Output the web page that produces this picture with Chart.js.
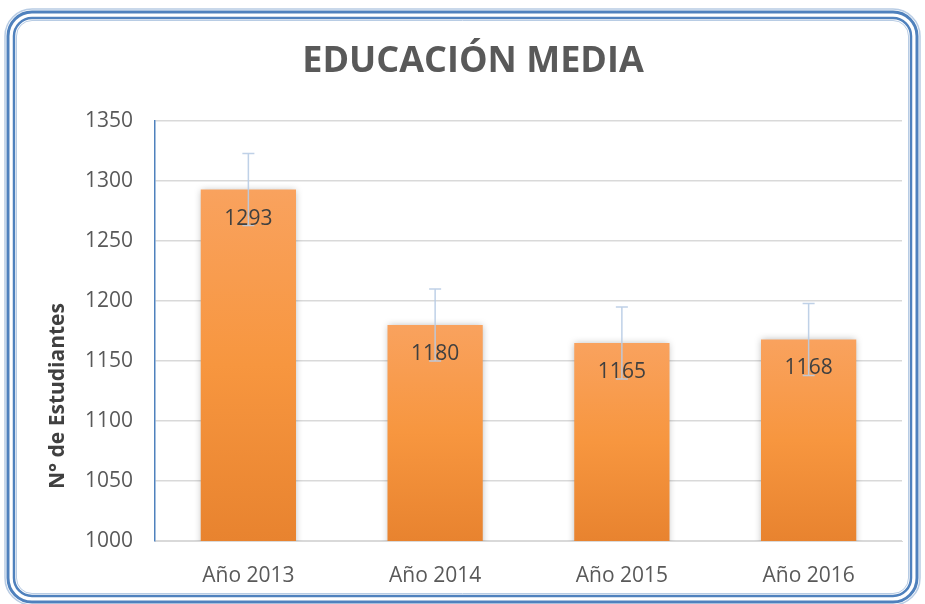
<!DOCTYPE html>
<html>
<head>
<meta charset="utf-8">
<script src="https://cdn.jsdelivr.net/npm/chart.js@4"></script>
<style>
  body { margin: 0; background: #fff; }
  #wrap { width: 925px; height: 604px; }
</style>
</head>
<body>
<div id="wrap"><canvas id="myChart" width="925" height="604"></canvas></div>
<script>
const categories = ["Año 2013", "Año 2014", "Año 2015", "Año 2016"];
const students = [1293, 1180, 1165, 1168];
const errorAmounts = [30, 30, 30, 30];
const yTicks = [1000, 1050, 1100, 1150, 1200, 1250, 1300, 1350];
const yTitle = "N° de Estudiantes";

// double rounded frame round the whole picture
const framePlugin = {
  id: "frame",
  beforeDraw(chart) {
    const ctx = chart.ctx;
    ctx.save();
    ctx.fillStyle = "#fff";
    ctx.fillRect(0, 0, chart.width, chart.height);
    const lines = [
      { i: 5, w: 1.5, c: "#b8cce4" },
      { i: 8, w: 3, c: "#4f81bd" },
      { i: 14, w: 2.5, c: "#4f81bd" },
      { i: 16.5, w: 1, c: "#b8cce4" },
    ];
    lines.forEach((l) => {
      ctx.beginPath();
      ctx.lineWidth = l.w;
      ctx.strokeStyle = l.c;
      ctx.roundRect(l.i, l.i + 4, chart.width - 2 * l.i, chart.height - 2 * l.i - 2 + 4, 32 - l.i);
      ctx.stroke();
    });
    ctx.restore();
  },
};

// soft shadow behind the bars
const shadowPlugin = {
  id: "barShadow",
  beforeDatasetDraw(chart) {
    const ctx = chart.ctx;
    ctx.save();
    ctx.shadowColor = "rgba(0,0,0,0.28)";
    ctx.shadowBlur = 7;
    ctx.shadowOffsetX = 0;
    ctx.shadowOffsetY = 0;
  },
  afterDatasetDraw(chart) {
    chart.ctx.restore();
  },
};

// error bars, value labels and the (lower placed) y title
const extrasPlugin = {
  id: "extras",
  afterDatasetsDraw(chart) {
    const ctx = chart.ctx;
    const y = chart.scales.y;
    const meta = chart.getDatasetMeta(0);
    ctx.save();
    meta.data.forEach((bar, i) => {
      const v = students[i];
      const top = y.getPixelForValue(v + errorAmounts[i]);
      const bot = y.getPixelForValue(v - errorAmounts[i]);
      ctx.strokeStyle = "rgba(184,204,228,0.9)";
      ctx.lineWidth = 1.5;
      ctx.beginPath();
      ctx.moveTo(bar.x, top);
      ctx.lineTo(bar.x, bot);
      ctx.moveTo(bar.x - 6, top);
      ctx.lineTo(bar.x + 6, top);
      ctx.moveTo(bar.x - 6, bot);
      ctx.lineTo(bar.x + 6, bot);
      ctx.stroke();
    });
    ctx.fillStyle = "#404040";
    ctx.font = "21px 'Open Sans'";
    ctx.textAlign = "center";
    ctx.textBaseline = "middle";
    meta.data.forEach((bar, i) => {
      ctx.fillText(String(students[i]), bar.x, bar.y + 29);
    });

    ctx.translate(58, 396);
    ctx.rotate(-Math.PI / 2);
    ctx.font = "bold 21px 'Open Sans'";
    ctx.fillText(yTitle, 0, 0);
    ctx.restore();
  },
};

const config = {
  type: "bar",
  data: {
    labels: categories,
    datasets: [
      {
        label: yTitle,
        data: students,
        backgroundColor: function (context) {
          const chart = context.chart;
          const area = chart.chartArea;
          if (!area) return "#f79646";
          const top = chart.scales.y.getPixelForValue(context.raw);
          const g = chart.ctx.createLinearGradient(0, top, 0, area.bottom);
          g.addColorStop(0, "#f9a25e");
          g.addColorStop(0.5, "#f7963f");
          g.addColorStop(1, "#e8832f");
          return g;
        },
        borderWidth: 0,
        categoryPercentage: 1,
        barPercentage: 0.51,
      },
    ],
  },
  options: {
    responsive: false,
    animation: false,
    layout: { padding: { top: 0, left: 44, right: 23, bottom: 13 } },
    plugins: {
      legend: { display: false },
      tooltip: { enabled: false },
      title: {
        display: true,
        text: "EDUCACIÓN MEDIA",
        color: "#595959",
        font: { family: "Open Sans", size: 36, weight: "bold" },
        padding: { top: 40, bottom: 38 },
      },
    },
    scales: {
      x: {
        grid: { display: false },
        border: { color: "#d9d9d9", width: 1 },
        ticks: { color: "#595959", font: { family: "Open Sans", size: 21 }, padding: 14 },
        afterFit: (scale) => {
          scale.height = 50;
        },
      },
      y: {
        min: 1000,
        max: 1350,
        afterBuildTicks: (axis) => {
          axis.ticks = yTicks.map((v) => ({ value: v }));
        },
        grid: { color: "#d9d9d9", lineWidth: 1.5, drawTicks: false },
        border: { color: "#4f81bd", width: 1.5 },
        ticks: {
          color: "#595959",
          font: { family: "Open Sans", size: 21 },
          padding: 22,
          callback: (v) => String(v),
        },
        // drawn by the plugin lower down, here only to keep the room
        title: {
          display: true,
          text: yTitle,
          color: "rgba(0,0,0,0)",
          font: { family: "Open Sans", size: 20, weight: "bold" },
          padding: { bottom: 0 },
        },
        afterFit: (scale) => {
          scale.width = 111;
        },
      },
    },
  },
  plugins: [framePlugin, shadowPlugin, extrasPlugin],
};

const myChart = new Chart(document.getElementById("myChart"), config);
</script>
</body>
</html>
